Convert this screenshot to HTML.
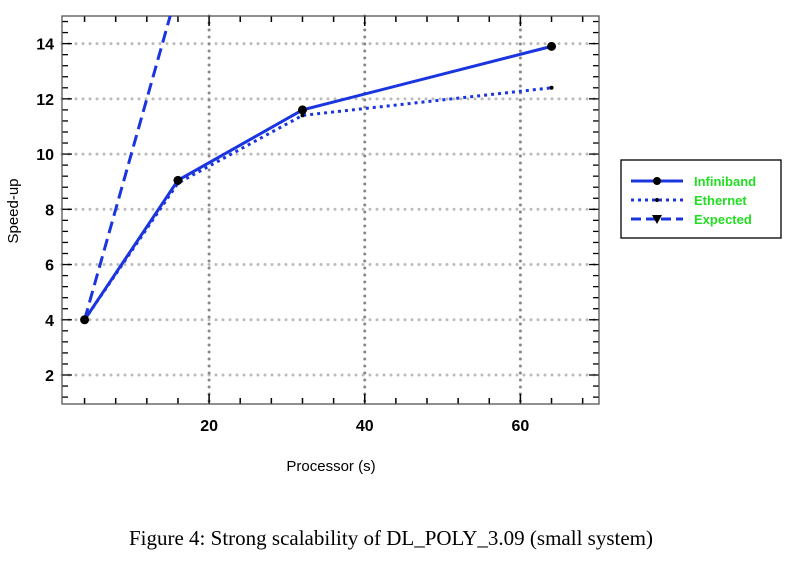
<!DOCTYPE html>
<html><head><meta charset="utf-8"><style>
body{margin:0;background:#fff;width:793px;height:558px;overflow:hidden}
svg text{font-family:"Liberation Sans",Arial,sans-serif}
</style></head><body>
<svg width="793" height="558">
<g id="grid"></g>
<g id="axes"></g>
<g id="series"></g>
<text x="331" y="471" font-size="15" text-anchor="middle">Processor (s)</text>
<text transform="translate(18,211) rotate(-90)" font-size="15" text-anchor="middle">Speed-up</text>
<g>
<rect x="621" y="160" width="160" height="78" fill="#fff" stroke="#000" stroke-width="1.3"/>
<g><line x1="631" y1="181" x2="683" y2="181" stroke="#1a35e0" stroke-width="3"/><circle cx="657" cy="181" r="4" fill="#000"/><text x="694" y="186" font-size="13" font-weight="bold" fill="#22dd22">Infiniband</text></g>
<g><line x1="631" y1="200" x2="683" y2="200" stroke="#1a35e0" stroke-width="3" stroke-dasharray="3,4"/><circle cx="657" cy="200" r="2" fill="#000"/><text x="694" y="205" font-size="13" font-weight="bold" fill="#22dd22">Ethernet</text></g>
<g><line x1="631" y1="219" x2="683" y2="219" stroke="#1a35e0" stroke-width="3" stroke-dasharray="10,5"/><path d="M652,215 L662,215 L657,224 Z" fill="#000"/><text x="694" y="224" font-size="13" font-weight="bold" fill="#22dd22">Expected</text></g>
</g>
<text x="391" y="545" font-size="21" text-anchor="middle" style="font-family:'Liberation Serif',serif">Figure 4: Strong scalability of DL_POLY_3.09 (small system)</text>
</svg>
<script>
const procs=[4,16,32,64];
const infiniband=[4,9.05,11.6,13.9];
const ethernet=[4,8.95,11.4,12.4];
const expectedProcs=[4,16];
const expected=[4,16];
const xTicks=[20,40,60];
const yTicks=[2,4,6,8,10,12,14];
const L=62,R=599,T=16,B=404,X0=1.1,X1=70.1,Y0=0.95,Y1=15;
const sx=v=>L+(v-X0)/(X1-X0)*(R-L), sy=v=>B-(v-Y0)/(Y1-Y0)*(B-T);
const NS="http://www.w3.org/2000/svg";
function mk(p,tag,a){const e=document.createElementNS(NS,tag);for(const k in a)e.setAttribute(k,a[k]);p.appendChild(e);return e;}
const grid=document.getElementById('grid'),axes=document.getElementById('axes'),ser=document.getElementById('series');
yTicks.forEach(v=>{const l=mk(grid,'line',{x1:L,x2:R,y1:sy(v),y2:sy(v),stroke:'#bbb','stroke-width':3,'stroke-dasharray':'0,7','stroke-linecap':'round'});


const t=mk(axes,'text',{x:L-8,y:sy(v)+6,'font-size':16,'font-weight':'bold','text-anchor':'end'});t.textContent=v;

});
xTicks.forEach(v=>{const l=mk(grid,'line',{x1:sx(v),x2:sx(v),y1:T,y2:B,stroke:'#888','stroke-width':3,'stroke-dasharray':'0,7','stroke-linecap':'round'});


const t=mk(axes,'text',{x:sx(v),y:B+27,'font-size':16,'font-weight':'bold','text-anchor':'middle'});t.textContent=v;

});
for(let v=4;v<=68;v+=4){const big=v%20==0;mk(axes,'line',{x1:sx(v),x2:sx(v),y1:B,y2:B-(big?10:6),stroke:'#000','stroke-width':1.5});mk(axes,'line',{x1:sx(v),x2:sx(v),y1:T,y2:T+(big?10:6),stroke:'#000','stroke-width':1.5});}
for(let v=1.2;v<15;v+=0.4){const big=Math.abs(v/2-Math.round(v/2))<0.01;mk(axes,'line',{x1:L,x2:L+(big?10:6),y1:sy(v),y2:sy(v),stroke:'#000','stroke-width':1.3});mk(axes,'line',{x1:R,x2:R-(big?10:6),y1:sy(v),y2:sy(v),stroke:'#000','stroke-width':1.3});}
const fr=mk(axes,'rect',{x:L,y:T,width:R-L,height:B-T,fill:'none',stroke:'#555','stroke-width':1.3});


mk(ser,'clipPath',{id:'cp'}).appendChild(document.createElementNS(NS,'rect'));
const cr=ser.querySelector('#cp rect');cr.setAttribute('x',L);cr.setAttribute('y',T);cr.setAttribute('width',R-L);cr.setAttribute('height',B-T);
function line(xs,ys,dash,name){const p=mk(ser,'polyline',{points:xs.map((x,i)=>sx(x)+','+sy(ys[i])).join(' '),fill:'none',stroke:'#1a35e0','stroke-width':3,'clip-path':'url(#cp)'});if(dash)p.setAttribute('stroke-dasharray',dash);

}
line(expectedProcs,expected,'12,6','expected-line');
line(procs,ethernet,'3,4','ethernet-line');
line(procs,infiniband,null,'infiniband-line');
procs.forEach((x,i)=>{const c=mk(ser,'circle',{cx:sx(x),cy:sy(ethernet[i]),r:2,fill:'#000'});

});
procs.forEach((x,i)=>{const c=mk(ser,'circle',{cx:sx(x),cy:sy(infiniband[i]),r:4.5,fill:'#000'});

});
</script>
</body></html>
